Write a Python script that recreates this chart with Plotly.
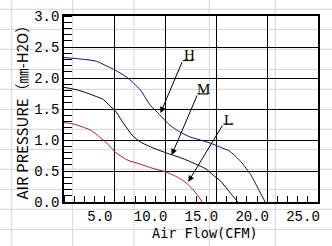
import plotly.graph_objects as go

# ---- data ----
h_flow = [0, 2.0, 3.2, 4.0, 5.0, 6.2, 7.5, 8.5, 9.4, 10.4, 11.4, 12.4, 13.4, 14.4, 15.3, 16.3, 17.3, 18.3, 19.1, 19.8]
h_pres = [2.33, 2.30, 2.27, 2.21, 2.13, 2.01, 1.81, 1.56, 1.41, 1.24, 1.13, 1.05, 1.00, 0.95, 0.89, 0.82, 0.67, 0.46, 0.22, 0.0]

m_flow = [0, 1.5, 3.2, 3.9, 4.5, 5.0, 5.85, 6.7, 7.5, 8.8, 10.1, 11.7, 13.4, 14.0, 14.7, 15.4, 16.1, 16.7, 17.1]
m_pres = [1.85, 1.80, 1.70, 1.65, 1.55, 1.48, 1.27, 1.08, 0.97, 0.87, 0.79, 0.70, 0.58, 0.53, 0.43, 0.34, 0.20, 0.08, 0.0]

l_flow = [0, 0.9, 2.6, 3.5, 4.4, 5.0, 6.2, 7.5, 8.8, 10.1, 11.4, 12.0, 12.7, 13.2, 13.6]
l_pres = [1.28, 1.26, 1.16, 1.05, 0.92, 0.81, 0.68, 0.61, 0.54, 0.48, 0.38, 0.31, 0.20, 0.10, 0.0]

x_ticks = [5, 10, 15, 20, 25]
x_ticktext = ["5.0", "10.0", "15.0", "20.0", "25.0"]
y_ticks = [0, 0.5, 1.0, 1.5, 2.0, 2.5, 3.0]
y_ticktext = ["0.0", "0.5", "1.0", "1.5", "2.0", "2.5", "3.0"]

# callouts: label, label pos, bar ends, arrow tip
callouts = [
    ("H", (12.33, 2.37), (11.68, 12.73, 2.28), (9.50, 1.435)),
    ("M", (13.71, 1.83), (13.16, 14.20, 1.742), (10.60, 0.758)),
    ("L", (16.17, 1.32), (15.68, 16.67, 1.258), (12.23, 0.327)),
]

W, H = 332, 246
ML, MR, MT, MB = 64, 14, 16, 44
PW, PH = W - ML - MR, H - MT - MB

fig = go.Figure()
fig.add_trace(go.Scatter(x=h_flow, y=h_pres, mode="lines",
                         line=dict(color="#10107a", width=1, shape="spline", smoothing=0.6)))
fig.add_trace(go.Scatter(x=m_flow, y=m_pres, mode="lines",
                         line=dict(color="#000000", width=1, shape="spline", smoothing=0.6)))
fig.add_trace(go.Scatter(x=l_flow, y=l_pres, mode="lines",
                         line=dict(color="#b41e1e", width=1, shape="spline", smoothing=0.6)))

shapes = []
# spreadsheet cell lines in the background
def px2paper_x(px):
    return (px - ML) / PW
def py2paper_y(py):
    return (H - MB - py) / PH

for px in [11.7, 72.7, 134, 209.3, 275.3]:
    shapes.append(dict(type="line", xref="paper", yref="paper",
                       x0=px2paper_x(px), x1=px2paper_x(px),
                       y0=py2paper_y(0), y1=py2paper_y(H),
                       line=dict(color="#d4d4d4", width=1), layer="below"))
for k in range(12):
    py = 9.3 + 20 * k
    shapes.append(dict(type="line", xref="paper", yref="paper",
                       x0=px2paper_x(0), x1=px2paper_x(W),
                       y0=py2paper_y(py), y1=py2paper_y(py),
                       line=dict(color="#d4d4d4", width=1), layer="below"))

annotations = []
for lab, (lx, ly), (bx0, bx1, by), (tx, ty) in callouts:
    shapes.append(dict(type="line", xref="x", yref="y", x0=bx0, x1=bx1, y0=by, y1=by,
                       line=dict(color="black", width=1)))
    annotations.append(dict(x=lx, y=ly, xref="x", yref="y", text=lab, showarrow=False,
                            xanchor="center", yanchor="middle",
                            font=dict(family="Liberation Serif", size=15, color="black")))
    annotations.append(dict(x=tx, y=ty, xref="x", yref="y", ax=bx0, ay=by,
                            axref="x", ayref="y", text="", showarrow=True,
                            arrowhead=2, arrowsize=1.2, arrowwidth=1, arrowcolor="black"))

annotations.append(dict(x=px2paper_x(204.5), y=py2paper_y(233), xref="paper", yref="paper",
                        xanchor="center", yanchor="middle",
                        text="Air Flow(CFM)", showarrow=False,
                        font=dict(family="DejaVu Sans Mono", size=13.5, color="black")))
annotations.append(dict(x=px2paper_x(21), y=py2paper_y(108.5), xref="paper", yref="paper",
                        xanchor="center", yanchor="middle",
                        text="AIR PRESSURE（㎜-H2O）", showarrow=False, textangle=-90,
                        font=dict(family="Noto Sans CJK JP", size=15, color="black")))

tickfont = dict(family="Liberation Mono", size=14, color="black")
fig.update_layout(
    width=W, height=H, margin=dict(l=ML, r=MR, t=MT, b=MB),
    paper_bgcolor="white", plot_bgcolor="rgba(0,0,0,0)",
    showlegend=False, shapes=shapes, annotations=annotations,
    xaxis=dict(range=[0, 25], tickvals=x_ticks, ticktext=x_ticktext, ticks="",
               showgrid=True, gridcolor="black", gridwidth=1.3,
               showline=True, linecolor="black", linewidth=1.5, mirror=True,
               zeroline=False, tickfont=tickfont, ticklabelshift=-15, automargin=False,
               minor=dict(dtick=1, ticks="inside", ticklen=6, tickcolor="black",
                          tickwidth=1, showgrid=False)),
    yaxis=dict(range=[0, 3], tickvals=y_ticks, ticktext=y_ticktext, ticks="",
               showgrid=True, gridcolor="black", gridwidth=1.3,
               showline=True, linecolor="black", linewidth=1.5, mirror=True,
               zeroline=False, tickfont=tickfont, automargin=False,
               minor=dict(dtick=0.1, ticks="inside", ticklen=8, tickcolor="black",
                          tickwidth=1, showgrid=False)),
)

fig.write_html("out.html")
